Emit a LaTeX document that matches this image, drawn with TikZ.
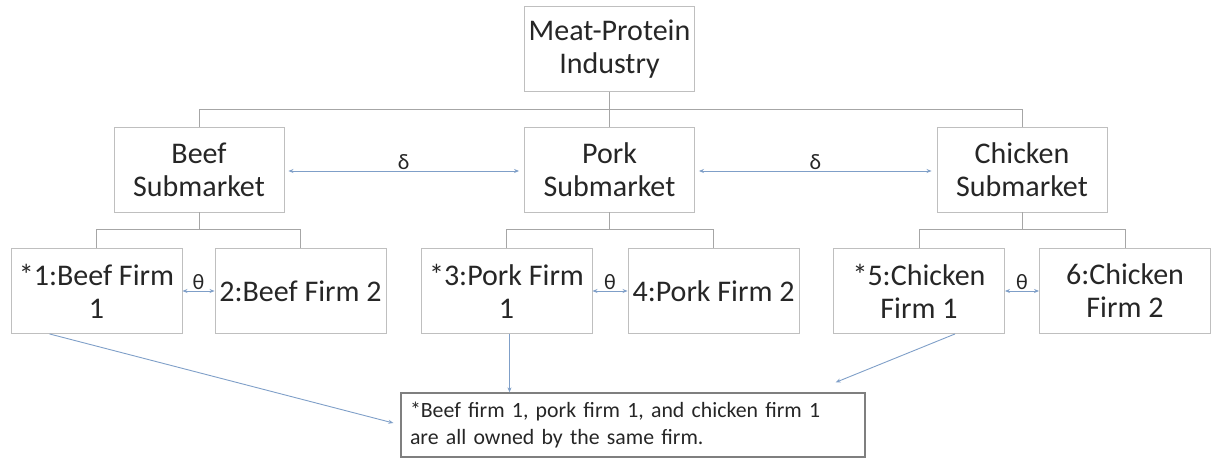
\documentclass[tikz,border=0pt]{standalone}
\usepackage{fontspec}
\setmainfont{Carlito}
\usetikzlibrary{arrows.meta}
\definecolor{boxgray}{HTML}{BFBFBF}
\definecolor{linegray}{HTML}{A6A6A6}
\definecolor{notegray}{HTML}{7F7F7F}
\definecolor{linkblue}{HTML}{7F9FC8}
\definecolor{txt}{HTML}{262626}

\begin{document}
\begin{tikzpicture}[x=1pt,y=-1pt,line width=0.9pt,
  unit/.style={draw=boxgray,text=txt,align=center,minimum width=170pt,minimum height=85pt,inner sep=2pt,font=\fontsize{30}{33}\selectfont},
  tree/.style={draw=linegray},
  link/.style={draw=linkblue,-{Stealth[length=5pt,width=4pt]}},
  twoway/.style={draw=linkblue,{Stealth[length=5pt,width=4pt]}-{Stealth[length=5pt,width=4pt]}},
  greek/.style={text=txt,font=\fontsize{22}{24}\selectfont,inner sep=1pt}]
  \useasboundingbox (0,0) rectangle (1212,458);
  % industria y submercados
  \node[unit] (top) at (609.5,49) {Meat-Protein\\Industry};
  \node[unit] (beef) at (199,169.5) {Beef\\Submarket};
  \node[unit] (pork) at (609.5,169.5) {Pork\\Submarket};
  \node[unit] (chicken) at (1022,169.5) {Chicken\\Submarket};
  % empresas
  \node[unit,minimum width=171pt] (f1) at (96.5,291) {*1:Beef Firm\\1};
  \node[unit,minimum width=171pt] (f2) at (300.5,291) {2:Beef Firm 2};
  \node[unit,minimum width=171pt] (f3) at (506.5,291) {*3:Pork Firm\\1};
  \node[unit,minimum width=171pt] (f4) at (713.5,291) {4:Pork Firm 2};
  \node[unit,minimum width=171pt] (f5) at (919,291) {*5:Chicken\\Firm 1};
  \node[unit,minimum width=171pt] (f6) at (1125,291) {6:Chicken\\Firm 2};
  % nota
  \node[draw=notegray,line width=1.3pt,text=txt,minimum width=464pt,minimum height=64pt,
    text width=446pt,inner xsep=9pt,align=left,font=\fontsize{21.8}{27}\selectfont]
    (note) at (633,425) {*Beef firm 1, pork firm 1, and chicken firm 1\\are all owned by the same firm.};
  % arbol
  \draw[tree] (top.south) -- (pork.north);
  \draw[tree] (beef.north) -- ++(0,-17) -| (chicken.north);
  \foreach \s/\a/\b in {beef/f1/f2,pork/f3/f4,chicken/f5/f6}{
    \draw[tree] (\s.south) -- ++(0,18);
    \draw[tree] (\a.north) -- ++(0,-19) -| (\b.north);
    \draw[twoway] (\a.east) -- node[greek,above]{θ} (\b.west);
  }
  % sustitucion entre submercados
  \draw[twoway] ([xshift=4pt,yshift=-1.5pt]beef.east) -- node[greek,above]{δ} ([xshift=-5pt,yshift=-1.5pt]pork.west);
  \draw[twoway] ([xshift=4pt,yshift=-1.5pt]pork.east) -- node[greek,above]{δ} ([xshift=-5pt,yshift=-1.5pt]chicken.west);
  % propiedad comun
  \draw[link] ([xshift=39pt]f1.south west) -- ([xshift=-7pt,yshift=2pt]note.west);
  \draw[link] ([xshift=3pt]f3.south) -- ([xshift=3pt]f3.south |- note.north);
  \draw[link] ([xshift=36pt]f5.south) -- ([xshift=-30pt,yshift=10pt]note.north east);
\end{tikzpicture}
\end{document}
